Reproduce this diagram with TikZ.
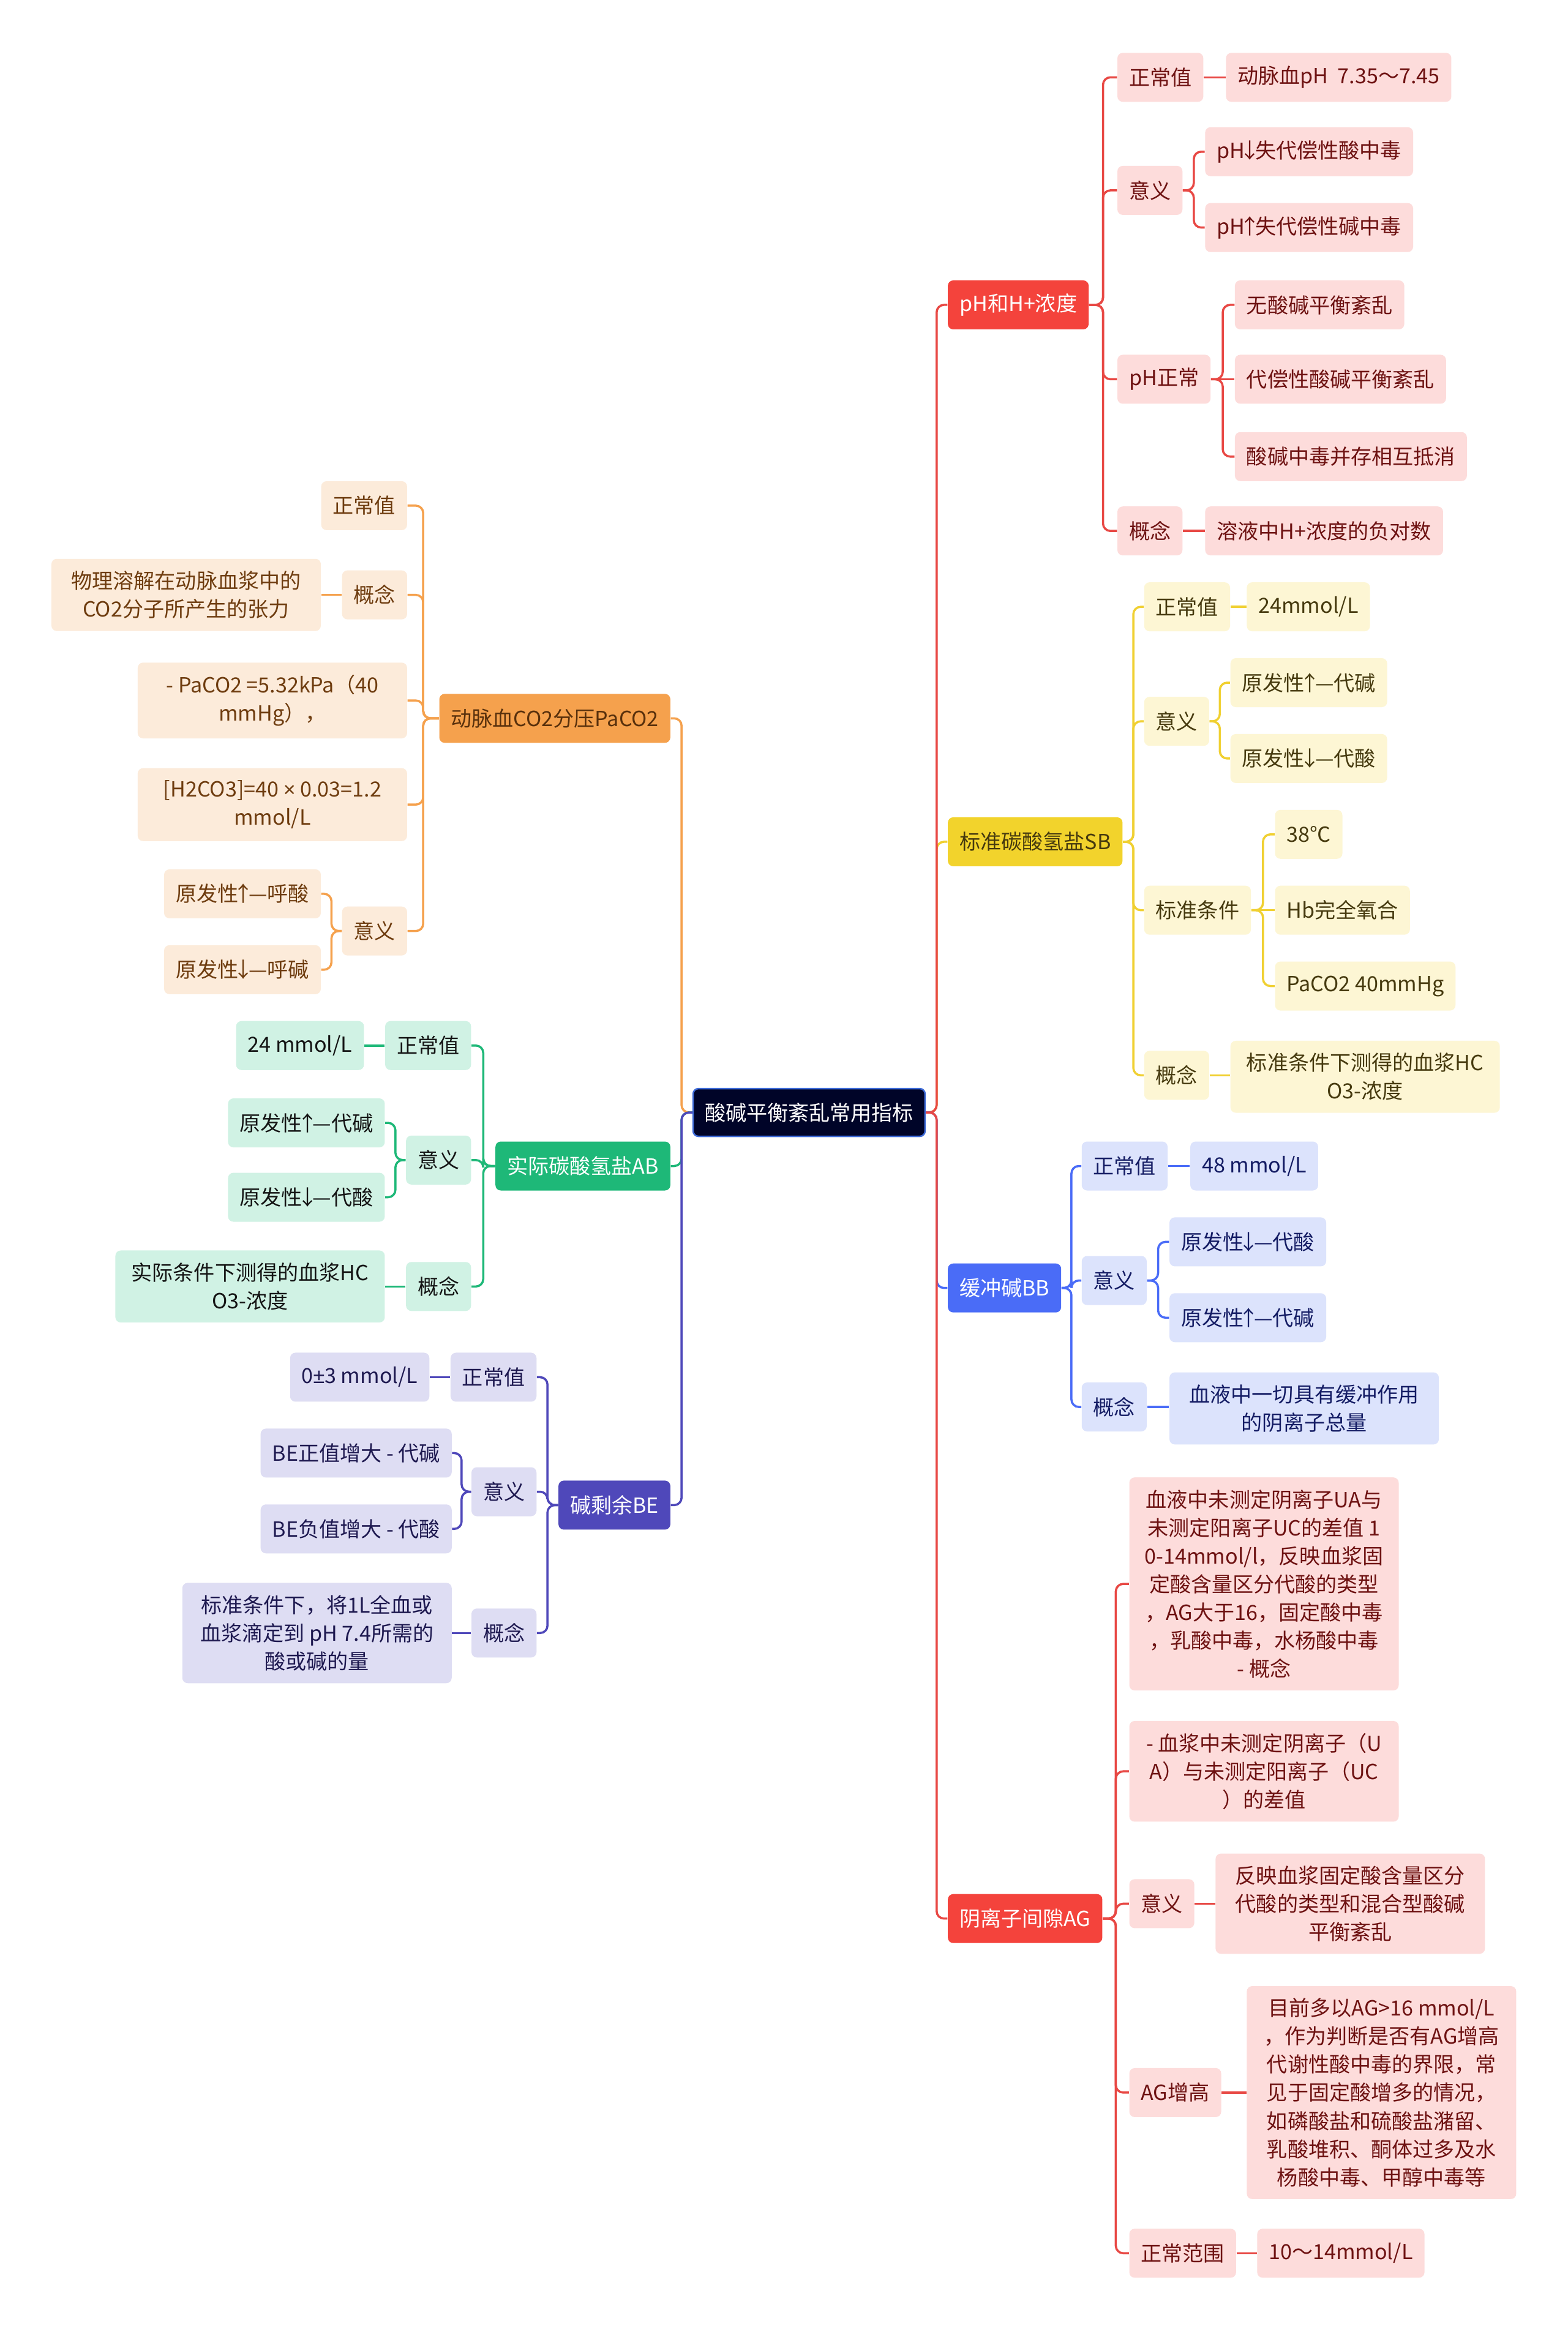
\documentclass[tikz,border=0pt]{standalone}
\usepackage{fontspec}
\setmainfont{Noto Sans CJK SC}
\newfontfamily\symbfont{Liberation Sans}
\usepackage{tikz}
\usetikzlibrary{calc}
\definecolor{rootFill}{RGB}{0, 4, 40}
\definecolor{rootRim}{RGB}{62, 107, 216}
\definecolor{redMain}{RGB}{244, 67, 60}
\definecolor{redLeaf}{RGB}{253, 220, 219}
\definecolor{redText}{RGB}{110, 18, 18}
\definecolor{redLine}{RGB}{232, 72, 68}
\definecolor{yelMain}{RGB}{242, 211, 44}
\definecolor{yelLeaf}{RGB}{253, 246, 212}
\definecolor{yelText}{RGB}{70, 58, 15}
\definecolor{yelLine}{RGB}{240, 208, 50}
\definecolor{bluMain}{RGB}{74, 108, 247}
\definecolor{bluLeaf}{RGB}{220, 227, 252}
\definecolor{bluText}{RGB}{20, 28, 100}
\definecolor{oraMain}{RGB}{245, 161, 77}
\definecolor{oraLeaf}{RGB}{252, 235, 218}
\definecolor{oraText}{RGB}{110, 60, 15}
\definecolor{grnMain}{RGB}{30, 184, 120}
\definecolor{grnLeaf}{RGB}{208, 242, 228}
\definecolor{grnText}{RGB}{20, 20, 20}
\definecolor{purMain}{RGB}{79, 72, 186}
\definecolor{purLeaf}{RGB}{222, 221, 243}
\definecolor{purText}{RGB}{30, 25, 80}
\newcommand{\up}{\makebox[0.5em][c]{↑}}
\newcommand{\dn}{\makebox[0.5em][c]{↓}}

\begin{document}
\begin{tikzpicture}[
  x=0.024288cm, y=-0.024288cm,
  every node/.style={font=\fontsize{9.7}{13.1}\selectfont},
  box/.style={rectangle, rounded corners=2.5pt, minimum height=0.8cm,
              inner xsep=0.19cm, inner ysep=0.2cm, align=center},
  wide/.style={minimum width=4.4cm},
  root/.style={box, draw=rootRim, line width=0.7pt, fill=rootFill, text=white, minimum height=0.78cm},
  redMain/.style={box, fill=redMain, text=white},
  redLeaf/.style={box, fill=redLeaf, text=redText},
  yelMain/.style={box, fill=yelMain, text=yelText},
  yelLeaf/.style={box, fill=yelLeaf, text=yelText},
  bluMain/.style={box, fill=bluMain, text=white},
  bluLeaf/.style={box, fill=bluLeaf, text=bluText},
  oraMain/.style={box, fill=oraMain, text=oraText!80!black},
  oraLeaf/.style={box, fill=oraLeaf, text=oraText},
  grnMain/.style={box, fill=grnMain, text=white},
  grnLeaf/.style={box, fill=grnLeaf, text=grnText},
  purMain/.style={box, fill=purMain, text=white},
  purLeaf/.style={box, fill=purLeaf, text=purText},
  link/.style={line width=1pt, rounded corners=0.12cm}
]
  \fill[white] (0,0) rectangle (1054,1568);
  \useasboundingbox (0,0) rectangle (1054,1568);

  % Racine
  \node[root] (root) at (544,748) {酸碱平衡紊乱常用指标};

  % Branches droite
  \node[redMain, anchor=west] (ph) at (637,205)  {pH和H+浓度};
  \node[yelMain, anchor=west] (sb) at (637,566)  {标准碳酸氢盐SB};
  \node[bluMain, anchor=west] (bb) at (637,866)  {缓冲碱BB};
  \node[redMain, anchor=west] (ag) at (637,1290) {阴离子间隙AG};

  % Branches gauche
  \node[oraMain, anchor=east] (pa) at (451,483)  {动脉血CO2分压PaCO2};
  \node[grnMain, anchor=east] (ab) at (451,784)  {实际碳酸氢盐AB};
  \node[purMain, anchor=east] (be) at (451,1012) {碱剩余BE};

  % pH et H+
  \node[redLeaf, anchor=west] (phNorm)  at (751,52)  {正常值};
  \node[redLeaf, anchor=west] (phNormV) at (824,52)  {动脉血pH\ \ 7.35～7.45};
  \node[redLeaf, anchor=west] (phMean)  at (751,128) {意义};
  \node[redLeaf, anchor=west] (phMeanA) at (810,102) {pH\dn 失代偿性酸中毒};
  \node[redLeaf, anchor=west] (phMeanB) at (810,153) {pH\up 失代偿性碱中毒};
  \node[redLeaf, anchor=west] (phOk)    at (751,255) {pH正常};
  \node[redLeaf, anchor=west] (phOkA)   at (830,205) {无酸碱平衡紊乱};
  \node[redLeaf, anchor=west] (phOkB)   at (830,255) {代偿性酸碱平衡紊乱};
  \node[redLeaf, anchor=west] (phOkC)   at (830,307) {酸碱中毒并存相互抵消};
  \node[redLeaf, anchor=west] (phDef)   at (751,357) {概念};
  \node[redLeaf, anchor=west] (phDefV)  at (810,357) {溶液中H+浓度的负对数};

  % SB
  \node[yelLeaf, anchor=west] (sbNorm)  at (769,408) {正常值};
  \node[yelLeaf, anchor=west] (sbNormV) at (838,408) {24mmol/L};
  \node[yelLeaf, anchor=west] (sbMean)  at (769,485) {意义};
  \node[yelLeaf, anchor=west] (sbMeanA) at (827,459) {原发性\up —代碱};
  \node[yelLeaf, anchor=west] (sbMeanB) at (827,510) {原发性\dn —代酸};
  \node[yelLeaf, anchor=west] (sbCond)  at (769,612) {标准条件};
  \node[yelLeaf, anchor=west] (sbCondA) at (857,561) {38℃};
  \node[yelLeaf, anchor=west] (sbCondB) at (857,612) {Hb完全氧合};
  \node[yelLeaf, anchor=west] (sbCondC) at (857,663) {PaCO2 40mmHg};
  \node[yelLeaf, anchor=west] (sbDef)   at (769,723) {概念};
  \node[yelLeaf, wide, anchor=west] (sbDefV) at (827,724) {标准条件下测得的血浆HC\\O3-浓度};

  % BB
  \node[bluLeaf, anchor=west] (bbNorm)  at (727,784) {正常值};
  \node[bluLeaf, anchor=west] (bbNormV) at (800,784) {48 mmol/L};
  \node[bluLeaf, anchor=west] (bbMean)  at (727,861) {意义};
  \node[bluLeaf, anchor=west] (bbMeanA) at (786,835) {原发性\dn —代酸};
  \node[bluLeaf, anchor=west] (bbMeanB) at (786,886) {原发性\up —代碱};
  \node[bluLeaf, anchor=west] (bbDef)   at (727,946) {概念};
  \node[bluLeaf, wide, anchor=west] (bbDefV) at (786,947) {血液中一切具有缓冲作用\\的阴离子总量};

  % AG
  \node[redLeaf, wide, anchor=west] (agDefA) at (759,1065)
    {血液中未测定阴离子UA与\\未测定阳离子UC的差值 1\\0-14mmol/l，反映血浆固\\定酸含量区分代酸的类型\\，AG大于16，固定酸中毒\\，乳酸中毒，水杨酸中毒\\- 概念};
  \node[redLeaf, wide, anchor=west] (agDefB) at (759,1191)
    {- 血浆中未测定阴离子（U\\A）与未测定阳离子（UC\\）的差值};
  \node[redLeaf, anchor=west] (agMean)  at (759,1280) {意义};
  \node[redLeaf, wide, anchor=west] (agMeanV) at (817,1280)
    {反映血浆固定酸含量区分\\代酸的类型和混合型酸碱\\平衡紊乱};
  \node[redLeaf, anchor=west] (agHigh)  at (759,1407) {AG增高};
  \node[redLeaf, wide, anchor=west] (agHighV) at (838,1407)
    {目前多以AG>16 mmol/L\\，作为判断是否有AG增高\\代谢性酸中毒的界限，常\\见于固定酸增多的情况，\\如磷酸盐和硫酸盐潴留、\\乳酸堆积、酮体过多及水\\杨酸中毒、甲醇中毒等};
  \node[redLeaf, anchor=west] (agRange)  at (759,1515) {正常范围};
  \node[redLeaf, anchor=west] (agRangeV) at (845,1515) {10～14mmol/L};

  % PaCO2
  \node[oraLeaf, anchor=east] (paNorm)  at (274,340) {正常值};
  \node[oraLeaf, anchor=east] (paDef)   at (274,400) {概念};
  \node[oraLeaf, wide, anchor=east] (paDefV) at (216,400) {物理溶解在动脉血浆中的\\CO2分子所产生的张力};
  \node[oraLeaf, wide, anchor=east] (paVal)  at (274,471) {- PaCO2 =5.32kPa（40\\mmHg），};
  \node[oraLeaf, wide, anchor=east] (paCarb) at (274,541) {[H2CO3]=40 {\symbfont ×} 0.03=1.2\\mmol/L};
  \node[oraLeaf, anchor=east] (paMean)  at (274,626) {意义};
  \node[oraLeaf, anchor=east] (paMeanA) at (216,601) {原发性\up —呼酸};
  \node[oraLeaf, anchor=east] (paMeanB) at (216,652) {原发性\dn —呼碱};

  % AB
  \node[grnLeaf, anchor=east] (abNorm)  at (317,703) {正常值};
  \node[grnLeaf, anchor=east] (abNormV) at (245,703) {24 mmol/L};
  \node[grnLeaf, anchor=east] (abMean)  at (317,780) {意义};
  \node[grnLeaf, anchor=east] (abMeanA) at (259,755) {原发性\up —代碱};
  \node[grnLeaf, anchor=east] (abMeanB) at (259,805) {原发性\dn —代酸};
  \node[grnLeaf, anchor=east] (abDef)   at (317,865) {概念};
  \node[grnLeaf, wide, anchor=east] (abDefV) at (259,865) {实际条件下测得的血浆HC\\O3-浓度};

  % BE
  \node[purLeaf, anchor=east] (beNorm)  at (361,926)  {正常值};
  \node[purLeaf, anchor=east] (beNormV) at (289,926)  {0{\symbfont ±}3 mmol/L};
  \node[purLeaf, anchor=east] (beMean)  at (361,1003) {意义};
  \node[purLeaf, anchor=east] (beMeanA) at (304,977)  {BE正值增大 - 代碱};
  \node[purLeaf, anchor=east] (beMeanB) at (304,1028) {BE负值增大 - 代酸};
  \node[purLeaf, anchor=east] (beDef)   at (361,1098) {概念};
  \node[purLeaf, wide, anchor=east] (beDefV) at (304,1098)
    {标准条件下，将1L全血或\\血浆滴定到 pH 7.4所需的\\酸或碱的量};

  % Liens droite (coudes)
  \foreach \p/\c/\col in {root/sb/yelLine, root/ph/redLine, root/bb/bluMain, root/ag/redLine,
      ph/phNorm/redLine, ph/phMean/redLine, phMean/phMeanA/redLine,
      phMean/phMeanB/redLine, ph/phOk/redLine, phOk/phOkA/redLine,
      phOk/phOkC/redLine, ph/phDef/redLine,
      sb/sbNorm/yelLine, sb/sbMean/yelLine, sbMean/sbMeanA/yelLine,
      sbMean/sbMeanB/yelLine, sb/sbCond/yelLine, sbCond/sbCondA/yelLine,
      sbCond/sbCondC/yelLine, sb/sbDef/yelLine,
      bb/bbNorm/bluMain, bb/bbMean/bluMain, bbMean/bbMeanA/bluMain,
      bbMean/bbMeanB/bluMain, bb/bbDef/bluMain,
      ag/agDefA/redLine, ag/agDefB/redLine, ag/agMean/redLine,
      ag/agHigh/redLine, ag/agRange/redLine}
    \draw[link, draw=\col] (\p.east) -- ($(\p.east)!.5!(\p.east-|\c.west)$) |- (\c.west);

  % Liens droite (droits)
  \foreach \p/\c/\col in {phNorm/phNormV/redLine, phOk/phOkB/redLine, phDef/phDefV/redLine,
      sbNorm/sbNormV/yelLine, sbCond/sbCondB/yelLine, sbDef/sbDefV/yelLine,
      bbNorm/bbNormV/bluMain, bbDef/bbDefV/bluMain,
      agMean/agMeanV/redLine, agHigh/agHighV/redLine, agRange/agRangeV/redLine}
    \draw[link, draw=\col] (\p.east) -- (\c.west |- \p.east);

  % Liens gauche (coudes)
  \foreach \p/\c/\col in {root/pa/oraMain, root/ab/grnMain, root/be/purMain,
      pa/paNorm/oraMain, pa/paDef/oraMain, pa/paVal/oraMain,
      pa/paCarb/oraMain, pa/paMean/oraMain, paMean/paMeanA/oraMain, paMean/paMeanB/oraMain,
      ab/abNorm/grnMain, ab/abMean/grnMain, abMean/abMeanA/grnMain,
      abMean/abMeanB/grnMain, ab/abDef/grnMain,
      be/beNorm/purMain, be/beMean/purMain, beMean/beMeanA/purMain,
      beMean/beMeanB/purMain, be/beDef/purMain}
    \draw[link, draw=\col] (\p.west) -- ($(\p.west)!.5!(\p.west-|\c.east)$) |- (\c.east);

  % Liens gauche (droits)
  \foreach \p/\c/\col in {paDef/paDefV/oraMain, abNorm/abNormV/grnMain, abDef/abDefV/grnMain,
      beNorm/beNormV/purMain, beDef/beDefV/purMain}
    \draw[link, draw=\col] (\p.west) -- (\c.east |- \p.west);
\end{tikzpicture}
\end{document}
